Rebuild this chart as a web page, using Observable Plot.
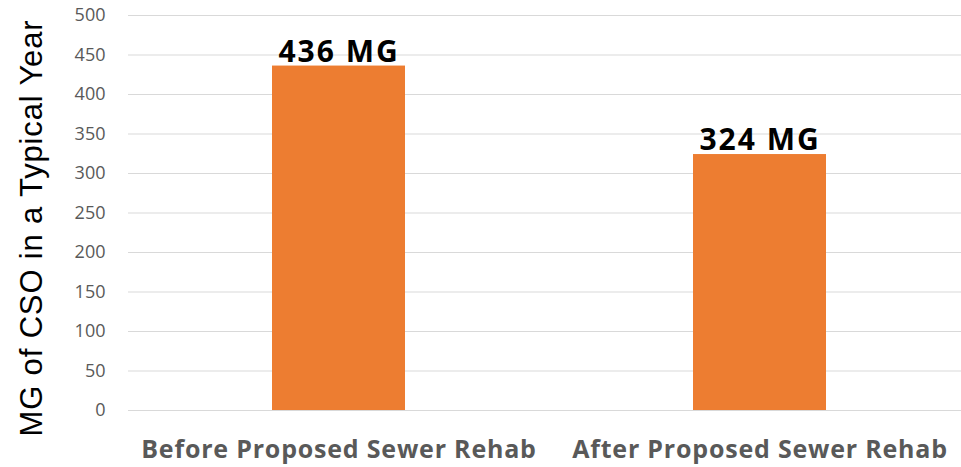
<!DOCTYPE html>
<html><head><meta charset="utf-8">
<script src="https://cdn.jsdelivr.net/npm/d3@7"></script>
<script src="https://cdn.jsdelivr.net/npm/@observablehq/plot@0.6"></script>
<style>
body{margin:0;background:#fff;overflow:hidden}
#chart{position:relative;width:961px;height:467px;overflow:hidden}
</style></head><body><div id="chart"></div>
<script>
const categories = ["Before Proposed Sewer Rehab", "After Proposed Sewer Rehab"];
const values = [436, 324];
const valueLabels = ["436 MG", "324 MG"];
const yTicks = [0, 50, 100, 150, 200, 250, 300, 350, 400, 450, 500];
const yTitle = "MG of CSO in a Typical Year";

const data = categories.map((c, i) => ({cat: c, v: values[i], label: valueLabels[i]}));

const plot = Plot.plot({
  width: 961,
  height: 467,
  marginLeft: 128,
  marginRight: -9,
  marginTop: 15,
  marginBottom: 57,
  style: {fontFamily: "'Open Sans', sans-serif", background: "#fff", overflow: "visible"},
  x: {domain: categories, paddingInner: 0.684, paddingOuter: 0.342, label: null},
  y: {domain: [0, 500], label: null},
  marks: [
    Plot.ruleY(yTicks, {stroke: "#d9d9d9", strokeWidth: 1}),
    Plot.barY(data, {x: "cat", y: "v", fill: "#ED7D31"}),
    Plot.text(data, {x: "cat", y: "v", text: "label", dy: -14, fontSize: 30, fontWeight: "bold", fill: "#000", className: "barlabel"}),
    Plot.axisY({ticks: yTicks, tickSize: 0, tickPadding: 23, fontSize: 18, fill: "#595959", label: null}),
    Plot.axisX({tickSize: 0, tickPadding: 30, fontSize: 25, fontWeight: "bold", fill: "#595959", label: null})
  ]
});
plot.querySelectorAll("g[aria-label='x-axis tick label'] text").forEach(t => t.style.letterSpacing = "0.8px");
plot.querySelectorAll("g[aria-label='text'] text").forEach(t => t.style.letterSpacing = "2px");
document.getElementById("chart").appendChild(plot);

const t = document.createElement("div");
t.textContent = yTitle;
t.style.cssText = "position:absolute;left:31px;top:228px;transform:translate(-50%,-50%) rotate(-90deg);white-space:nowrap;font-family:'Liberation Sans',Arial,sans-serif;font-size:31px;line-height:31px;letter-spacing:0.85px;color:#000;";
document.getElementById("chart").appendChild(t);
</script></body></html>
